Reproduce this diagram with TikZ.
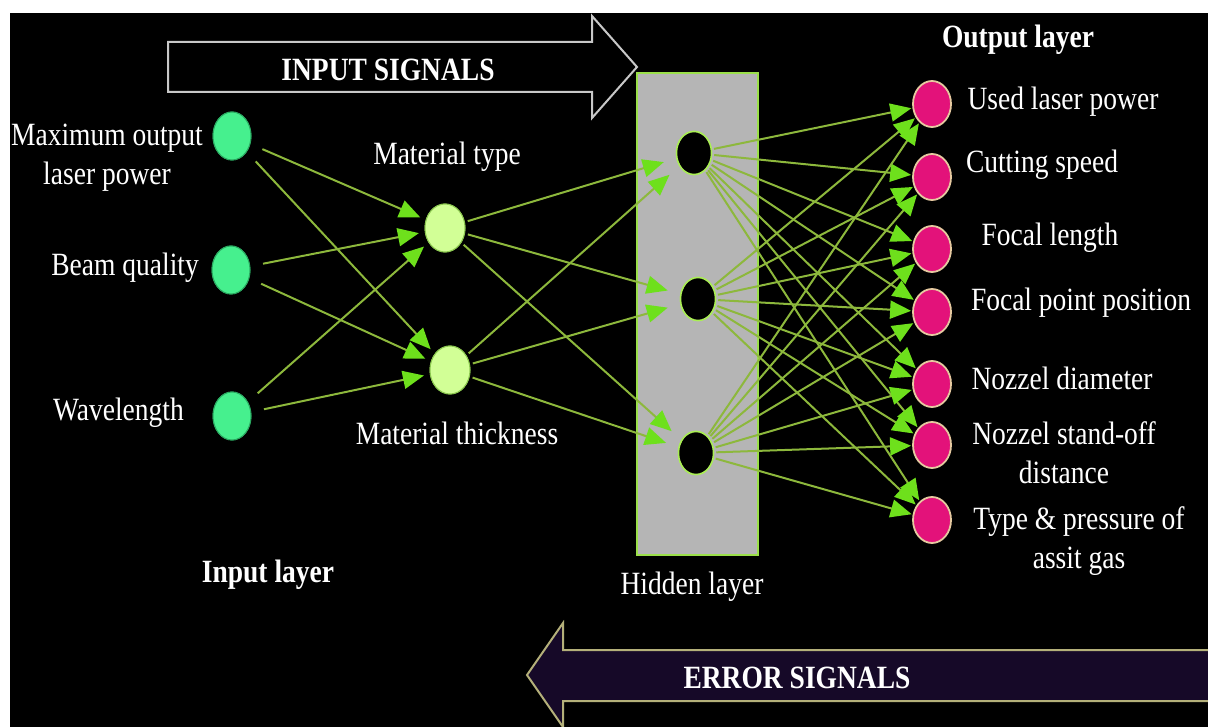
\documentclass[tikz,border=0pt]{standalone}
\usepackage{fontspec}
\setmainfont{Liberation Serif}
\usepackage{graphicx}
\usetikzlibrary{arrows.meta,shapes.geometric}

\definecolor{ingreen}{HTML}{46F08E}
\definecolor{ingreenrim}{HTML}{2AA860}
\definecolor{matgreen}{HTML}{D2FF96}
\definecolor{matrim}{HTML}{8CC850}
\definecolor{outmag}{HTML}{E3127A}
\definecolor{outrim}{HTML}{E6C9A0}
\definecolor{boxgray}{HTML}{B5B5B5}
\definecolor{boxrim}{HTML}{9BE04A}
\definecolor{wire}{HTML}{8DB83C}
\definecolor{tipgreen}{HTML}{6EE01C}
\definecolor{hidrim}{HTML}{AAEE55}
\definecolor{arrowgray}{HTML}{C8C8C8}
\definecolor{errfill}{HTML}{160928}
\definecolor{errrim}{HTML}{B4B07A}

% slightly tall lettering
\newcommand\tallbox[1]{\scalebox{1}[1.18]{#1}}
\newcommand\twolines[2]{\tallbox{\begin{tabular}{@{}c@{}}#1\\#2\end{tabular}}}

\begin{document}
\begin{tikzpicture}[x=1pt,y=-1pt,
  lbl/.style={text=white, inner sep=0pt, font=\fontsize{27.5}{33}\selectfont},
  blbl/.style={lbl, font=\fontsize{27.5}{33}\selectfont\bfseries},
  innode/.style={ellipse, fill=ingreen, draw=ingreenrim, line width=1pt,
    minimum width=38pt, minimum height=48pt, inner sep=0pt},
  matnode/.style={ellipse, fill=matgreen, draw=matrim, line width=1pt,
    minimum width=40pt, minimum height=48pt, inner sep=0pt},
  hidnode/.style={ellipse, fill=black, draw=hidrim, line width=1.5pt,
    minimum width=35pt, minimum height=43pt, inner sep=0pt},
  outnode/.style={ellipse, fill=outmag, draw=outrim, line width=1.8pt,
    minimum width=38pt, minimum height=46pt, inner sep=0pt},
  link/.style={draw=wire, line width=2pt,
    -{Triangle[length=21pt,width=18pt,color=tipgreen]}},
]
\useasboundingbox (0,0) rectangle (1208,727);
\fill[white] (0,0) rectangle (1208,727);
\fill[black] (10,13) rectangle (1208,727);

% block arrows
\draw[fill=black, draw=arrowgray, line width=2pt]
  (168,42) -- (592,42) -- (592,16) -- (637,67) -- (592,118) -- (592,92) -- (168,92) -- cycle;
\node[blbl] (insig) at (388,70) {\tallbox{INPUT SIGNALS}};

\begin{scope}
  \clip (10,13) rectangle (1208,727);
  \draw[fill=errfill, draw=errrim, line width=2pt]
    (1215,650) -- (563,650) -- (563,623) -- (527,675) -- (563,727) -- (563,701) -- (1215,701) -- cycle;
\end{scope}
\node[blbl] (errsig) at (797,678) {\tallbox{ERROR SIGNALS}};

% hidden layer panel
\node[draw=boxrim, fill=boxgray, line width=2pt, minimum width=121pt, minimum height=482pt,
  inner sep=0pt] (hbox) at (697.5,314) {};

% neurons
\node[innode] (i1) at (232,136) {};
\node[innode] (i2) at (231,270) {};
\node[innode] (i3) at (232,416) {};

\node[matnode] (m1) at (445,228) {};
\node[matnode] (m2) at (450,370) {};

\node[hidnode] (h1) at (694,153) {};
\node[hidnode] (h2) at (698,299) {};
\node[hidnode] (h3) at (696,453) {};

\node[outnode] (o1) at (932,104) {};
\node[outnode] (o2) at (932,177) {};
\node[outnode] (o3) at (932,249) {};
\node[outnode] (o4) at (932,312) {};
\node[outnode] (o5) at (932,384) {};
\node[outnode] (o6) at (932,445) {};
\node[outnode] (o7) at (932,520) {};

% weights
\foreach \s in {i1,i2,i3}
  \foreach \t in {m1,m2}
    \draw[link, shorten <=13pt, shorten >=6pt] (\s) -- (\t);
\foreach \s in {m1,m2}
  \foreach \t in {h1,h2,h3}
    \draw[link, shorten <=3pt, shorten >=13pt] (\s) -- (\t);
\foreach \s in {h1,h2,h3}
  \foreach \t in {o1,o2,o3,o4,o5,o6,o7}
    \draw[link, shorten <=2pt, shorten >=1pt] (\s) -- (\t);

% redraw neurons above the wires
\node[innode] at (i1) {};
\node[innode] at (i2) {};
\node[innode] at (i3) {};
\node[matnode] at (m1) {};
\node[matnode] at (m2) {};
\node[hidnode] at (h1) {};
\node[hidnode] at (h2) {};
\node[hidnode] at (h3) {};

% labels
\node[lbl] (li1) at (107,157) {\twolines{Maximum output}{laser power}};
\node[lbl, anchor=east] (li2) at (199,268) {\tallbox{Beam quality}};
\node[lbl, anchor=east] (li3) at (184,413) {\tallbox{Wavelength}};
\node[lbl] (lm1) at (447,157) {\tallbox{Material type}};
\node[lbl] (lm2) at (457,433) {\tallbox{Material thickness}};
\node[blbl] (linl) at (268,575) {\tallbox{Input layer}};
\node[lbl] (lhid) at (692,587) {\tallbox{Hidden layer}};
\node[blbl] (lout) at (1018,40) {\tallbox{Output layer}};

\node[lbl] (lo1) at (1063,102) {\tallbox{Used laser power}};
\node[lbl] (lo2) at (1042,165) {\tallbox{Cutting speed}};
\node[lbl] (lo3) at (1050,238) {\tallbox{Focal length}};
\node[lbl] (lo4) at (1081,303) {\tallbox{Focal point position}};
\node[lbl] (lo5) at (1062,378) {\tallbox{Nozzel diameter}};
\node[lbl] (lo6) at (1064,456) {\twolines{Nozzel stand-off}{distance}};
\node[lbl] (lo7) at (1079,541) {\twolines{Type \& pressure of}{assit gas}};
\end{tikzpicture}
\end{document}
